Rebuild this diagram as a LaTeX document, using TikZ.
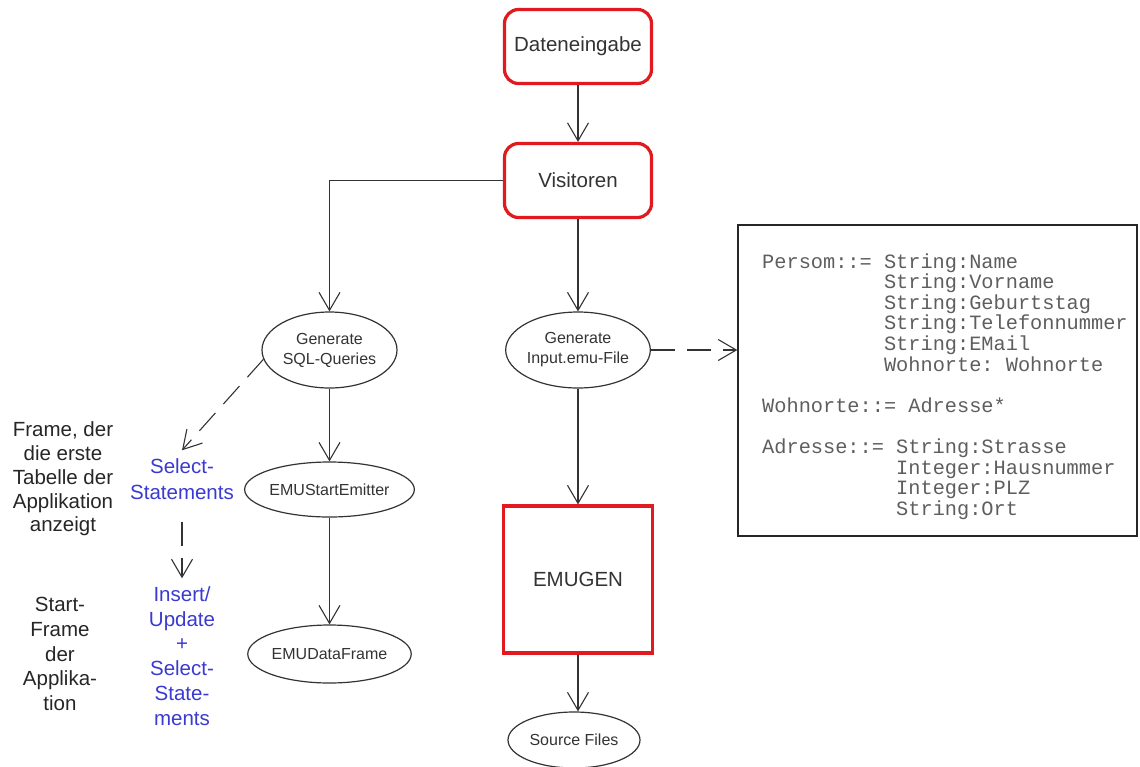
\documentclass[tikz,border=0pt]{standalone}
\usepackage{fontspec}
\setmainfont{Liberation Sans}
\setmonofont{Liberation Mono}
\usetikzlibrary{shapes.geometric,arrows.meta}
\definecolor{boxred}{HTML}{E01A1E}
\definecolor{ink}{HTML}{333333}
\definecolor{stmtblue}{HTML}{3A3AD0}
\definecolor{codegray}{HTML}{5E5E5E}

\begin{document}
\begin{tikzpicture}[x=1pt,y=-1pt,
  bigfont/.style={font=\fontsize{20.5}{24}\selectfont},
  redbox/.style={draw=boxred, line width=3.2pt, rounded corners=14pt,
    minimum width=147pt, minimum height=74pt, bigfont, text=ink},
  genbox/.style={draw=boxred, line width=3.2pt, minimum width=149pt,
    minimum height=147pt, bigfont, text=ink},
  task/.style={draw=ink, line width=1.2pt, ellipse, inner sep=0pt,
    font=\fontsize{16}{20}\selectfont, text=ink, align=center},
  conn/.style={draw=ink, line width=1.1pt,
    -{Straight Barb[length=18pt,width=21pt]}},
  dashconn/.style={conn, dash pattern=on 24pt off 12pt},
  note/.style={align=center, text=black!85, inner sep=0pt},
  stmt/.style={align=center, text=stmtblue, inner sep=8pt},
  code/.style={anchor=base west, inner sep=0pt, text=codegray,
    font=\ttfamily\fontsize{20.3}{20.6}\selectfont},
]
\useasboundingbox (0,0) rectangle (1140,766);

% main column
\node[redbox] (input) at (578,46.5) {Dateneingabe};
\node[redbox] (vis) at (578,180.5) {Visitoren};
\node[task, minimum width=144pt, minimum height=76pt] (inp) at (578,350)
  {Generate\\Input.emu-File};
\node[genbox] (gen) at (578,579.5) {EMUGEN};
\node[task, minimum width=132pt, minimum height=56pt] (src) at (574,740)
  {Source Files};

% SQL column
\node[task, minimum width=135pt, minimum height=76pt] (sql) at (329.5,350)
  {Generate\\SQL-Queries};
\node[task, minimum width=164pt, minimum height=55pt] (start) at (329.5,489.5)
  {EMUStartEmitter};
\node[task, minimum width=157pt, minimum height=58pt] (data) at (329.5,654)
  {EMUDataFrame};

% statements and explanations on the left
\node[stmt, font=\fontsize{20.5}{26}\selectfont] (sel) at (182,479)
  {Select-\\Statements};
\node[stmt, font=\fontsize{20.5}{24.8}\selectfont] (ins) at (182,656)
  {Insert/\\Update\\+\\Select-\\State-\\ments};
\node[note, font=\fontsize{20.5}{23.8}\selectfont] (firstframe) at (63,479)
  {Frame, der\\die erste\\Tabelle der\\Applikation\\anzeigt};
\node[note, font=\fontsize{20.5}{24.8}\selectfont] (startframe) at (60,654)
  {Start-\\Frame\\der\\Applika-\\tion};

% data model box
\node[draw=black!85, line width=1.4pt, minimum width=399pt, minimum height=311pt]
  (model) at (937.5,380.5) {};
\node[code] (c1) at (762,268) {Persom::= String:Name};
\node[code] (c2) at (762,288.6) {\hphantom{Persom::=x}String:Vorname};
\node[code] (c3) at (762,309.2) {\hphantom{Persom::=x}String:Geburtstag};
\node[code] (c4) at (762,329.8) {\hphantom{Persom::=x}String:Telefonnummer};
\node[code] (c5) at (762,350.4) {\hphantom{Persom::=x}String:EMail};
\node[code] (c6) at (762,371.0) {\hphantom{Persom::=x}Wohnorte: Wohnorte};
\node[code] (c7) at (762,412.2) {Wohnorte::= Adresse*};
\node[code] (c8) at (762,453.4) {Adresse::= String:Strasse};
\node[code] (c9) at (762,474.0) {\hphantom{Adresse::=x}Integer:Hausnummer};
\node[code] (c10) at (762,494.6) {\hphantom{Adresse::=x}Integer:PLZ};
\node[code] (c11) at (762,515.2) {\hphantom{Adresse::=x}String:Ort};

% connectors
\draw[conn] (input) -- (vis);
\draw[conn] (vis) -- (inp);
\draw[conn] (inp) -- (gen);
\draw[conn] (gen.south) -- (gen.south |- src.north);
\draw[conn] (vis.west) -| (sql.north);
\draw[conn] (sql) -- (start);
\draw[conn] (start) -- (data);
\draw[dashconn] (inp.east) -- (inp.east -| model.west);
\draw[dashconn] (sql.188) -- (sel.north);
\draw[dashconn, shorten <=14pt] (sel.south) -- (ins.north);
\end{tikzpicture}
\end{document}
